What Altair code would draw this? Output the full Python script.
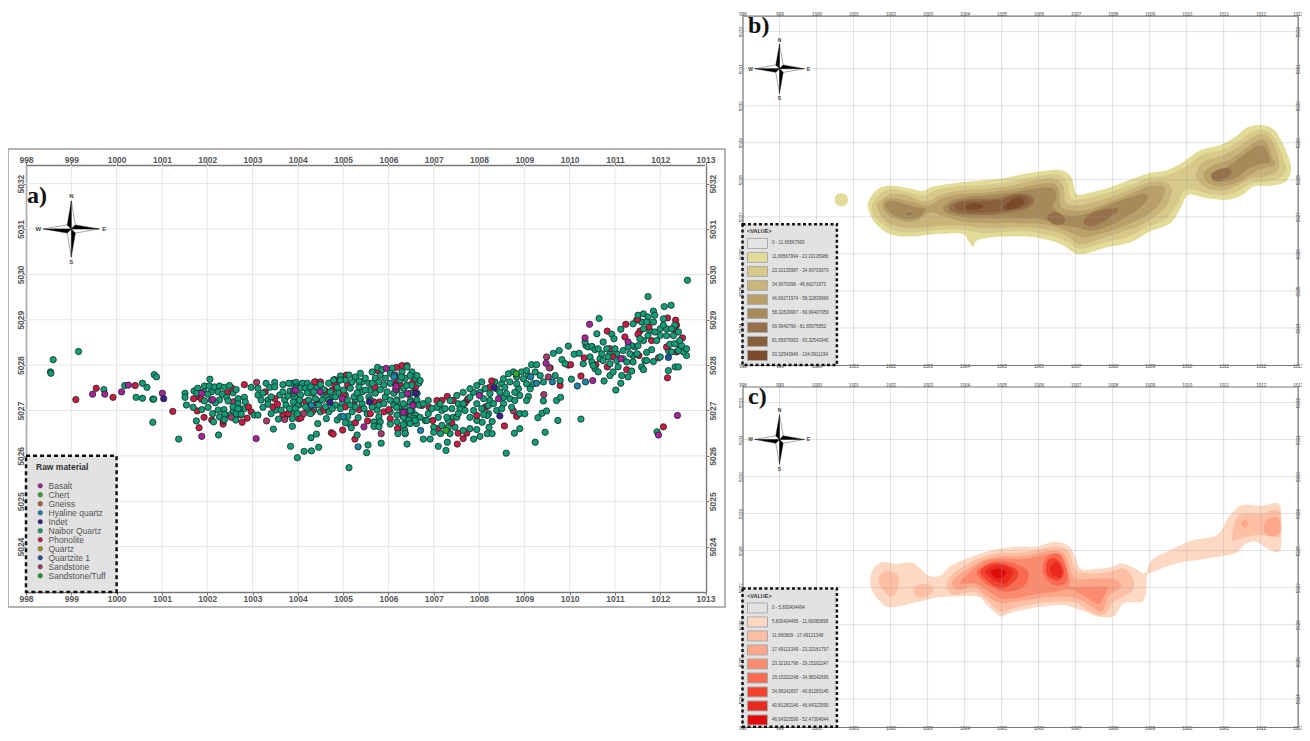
import altair as alt
import pandas as pd

# ---------------- panel a : artefacts (map km) ----------------
phonolite = [(999.10,5027.24),(999.55,5027.49),(999.92,5027.29),(1000.41,5027.55),(1001.24,5026.98),(1001.82,5026.62),(1001.70,5027.26),(1001.83,5027.30),(1001.87,5027.25),(1001.78,5026.99),(1001.93,5026.85),(1002.10,5026.79),(1002.35,5026.70),(1002.35,5026.77),(1002.77,5026.74),(1002.88,5026.83),(1002.74,5026.90),(1002.91,5027.08),(1002.97,5026.97),(1002.82,5027.57),(1002.54,5027.50),(1002.44,5027.39),(1003.67,5026.91),(1003.79,5026.93),(1003.45,5027.08),(1003.55,5027.14),(1003.49,5027.26),(1003.28,5027.41),(1004.02,5026.82),
(1004.37,5027.63),(1004.50,5027.63),(1004.81,5027.68),(1005.07,5027.78),(1005.10,5027.56),(1004.82,5027.57),(1004.61,5027.43),(1004.17,5027.19),(1004.32,5026.97),(1004.07,5026.84),(1004.57,5027.01),(1004.74,5026.51),(1004.78,5026.48),(1004.99,5026.57),(1005.27,5026.73),(1005.26,5026.37),(1005.54,5026.77),(1005.60,5026.93),(1005.90,5026.97),(1006.01,5027.02),(1006.04,5026.82),(1006.21,5026.60),(1005.76,5027.88),(1005.70,5027.51),(1006.18,5027.95),(1006.30,5027.99),(1006.41,5027.99),(1006.18,5027.63),(1006.26,5027.56),(1006.54,5027.63),(1006.60,5027.52),(1005.05,5027.08),(1005.35,5027.02),(1005.68,5027.19),(1005.81,5027.19),(1005.24,5027.12),(1006.57,5027.41),(1006.37,5026.93),(1005.01,5027.34),(1004.76,5027.45),(1004.43,5027.15),
(1006.74,5027.11),(1006.90,5027.07),(1007.07,5027.22),(1007.30,5027.31),(1007.18,5027.22),(1007.10,5026.60),(1006.98,5026.78),(1006.20,5026.60),(1007.43,5027.22),(1007.54,5026.50),(1007.52,5026.26),(1007.40,5026.73),(1007.65,5026.38),(1007.73,5026.50),(1007.69,5027.16),(1007.76,5027.26),(1007.95,5026.89),(1008.17,5027.09),(1008.28,5027.65),(1008.23,5027.51),(1008.56,5026.66),(1008.83,5026.87),(1009.79,5027.55),(1009.57,5027.94),
(1010.83,5028.75),(1011.24,5028.90),(1012.16,5029.04),(1011.50,5029.01),(1012.34,5028.99),(1012.36,5028.88),(1012.34,5028.76),(1012.49,5028.60),(1011.55,5028.75),(1011.51,5028.68),(1011.75,5028.84),(1011.81,5028.54),(1012.14,5028.40),(1011.22,5028.62),(1010.96,5028.18),(1010.83,5027.96),(1010.58,5028.01),(1010.32,5028.16),(1010.25,5027.76),(1009.97,5028.00),(1010.02,5028.01),(1011.53,5028.21),(1011.26,5027.90),(1012.16,5027.72),(1012.07,5026.64),(1012.36,5028.29)]
sandstone = [(1002.53,5026.85),(1003.09,5027.62),(1002.57,5027.19),(1003.71,5026.80),(1003.31,5026.77),(1004.13,5026.93),(1005.84,5026.49),(1008.76,5026.99),(1009.43,5027.35),(1009.53,5027.74),(1009.49,5028.18),(1011.96,5028.16),(1010.49,5028.40),(1010.89,5028.36),(1009.55,5027.94)]
naibor = [(998.60,5028.12),(999.16,5028.30),(998.54,5027.85),(998.55,5027.82),(999.72,5027.46),(1000.18,5027.55),(1000.57,5027.60),(1000.67,5027.51),(1000.83,5027.79),(1000.88,5027.74),(1000.43,5027.29),(1000.57,5027.27),(1000.80,5027.25),(1000.82,5027.25),(1000.80,5026.74),(1001.37,5026.37),(1001.51,5027.38),(1001.51,5027.29),(1001.54,5027.12),
(1002.06,5027.69),(1001.69,5027.07),(1001.76,5026.77),(1002.25,5026.46),(1001.71,5027.43),(1001.79,5027.49),(1001.94,5027.54),(1002.05,5027.54),(1002.16,5027.52),(1002.27,5027.54),(1002.38,5027.51),(1002.49,5027.55),(1002.64,5027.46),(1001.77,5027.38),(1001.93,5027.41),(1002.01,5027.36),(1002.24,5027.41),(1002.33,5027.36),(1002.43,5027.29),(1001.94,5027.21),(1002.18,5027.17),(1002.46,5027.21),(1002.68,5027.26),(1002.82,5027.29),(1002.84,5027.19),(1002.68,5027.15),(1002.57,5027.08),(1002.71,5027.04),(1002.02,5027.07),(1001.88,5027.02),(1002.24,5027.01),(1002.37,5027.02),(1002.38,5026.92),(1002.12,5026.93),(1002.27,5026.86),(1002.14,5026.75),(1002.38,5026.80),(1002.64,5026.93),(1002.63,5026.79),(1002.68,5027.04),(1002.75,5026.92),
(1002.97,5027.51),(1003.30,5027.60),(1003.49,5027.62),(1003.12,5027.34),(1003.23,5027.38),(1003.38,5027.51),(1003.49,5027.52),(1003.67,5027.57),(1003.80,5027.60),(1003.96,5027.62),(1003.34,5027.23),(1003.41,5027.30),(1003.34,5027.14),(1003.23,5027.07),(1003.04,5026.90),(1003.12,5026.90),(1003.41,5026.93),(1003.57,5026.81),(1003.46,5026.59),(1003.88,5026.65),(1003.84,5026.21),(1003.99,5025.96),(1003.67,5027.41),(1003.83,5027.43),(1003.74,5027.12),(1003.82,5027.04),(1003.93,5026.97),(1004.00,5027.12),(1003.78,5027.32),(1003.97,5027.52),(1003.88,5026.82),(1003.63,5027.01),
(1004.14,5026.10),(1004.30,5026.11),(1004.46,5026.19),(1004.29,5026.40),(1004.41,5026.48),(1004.44,5026.71),(1005.13,5025.74),(1005.55,5026.24),(1005.52,5026.07),(1005.84,5026.28),(1006.41,5026.26),(1005.31,5026.46),
(1004.10,5027.60),(1004.21,5027.60),(1003.95,5027.49),(1004.06,5027.49),(1004.17,5027.49),(1004.28,5027.52),(1004.50,5027.57),(1004.68,5027.60),(1004.94,5027.76),(1005.05,5027.67),(1005.20,5027.63),(1005.38,5027.82),(1005.49,5027.71),(1005.64,5027.85),(1005.76,5027.95),(1005.86,5027.90),(1006.08,5027.93),(1006.04,5027.82),(1006.30,5027.85),(1006.41,5027.96),(1006.52,5027.85),
(1003.91,5027.38),(1004.06,5027.34),(1004.21,5027.39),(1004.35,5027.41),(1004.57,5027.46),(1004.72,5027.41),(1004.87,5027.51),(1005.01,5027.45),(1005.16,5027.49),(1005.35,5027.52),(1005.49,5027.45),(1005.64,5027.60),(1005.79,5027.63),(1005.93,5027.71),(1006.04,5027.60),(1006.26,5027.67),(1006.37,5027.71),(1006.60,5027.71),(1006.67,5027.60),
(1003.90,5027.19),(1004.04,5027.23),(1004.24,5027.23),(1004.39,5027.26),(1004.54,5027.23),(1004.68,5027.23),(1004.83,5027.30),(1005.09,5027.23),(1005.24,5027.30),(1005.38,5027.26),(1005.57,5027.30),(1005.71,5027.38),(1005.82,5027.46),(1005.97,5027.41),(1006.19,5027.23),(1006.30,5027.34),(1006.34,5027.49),(1006.49,5027.38),(1006.63,5027.23),
(1003.95,5027.04),(1004.17,5027.08),(1004.46,5027.12),(1004.61,5027.08),(1004.76,5027.04),(1004.94,5027.04),(1005.16,5027.12),(1005.27,5027.08),(1005.46,5027.04),(1005.64,5027.08),(1005.79,5027.12),(1005.90,5027.15),(1006.04,5027.23),(1006.23,5027.08),(1006.37,5027.08),(1006.52,5027.01),(1006.67,5027.12),
(1003.99,5026.93),(1004.28,5026.93),(1004.63,5026.82),(1004.87,5026.79),(1004.94,5026.86),(1005.10,5026.87),(1005.13,5026.71),(1005.05,5026.73),(1005.18,5026.62),(1005.33,5026.84),(1005.68,5026.75),(1005.82,5026.75),(1005.68,5026.65),(1005.79,5026.64),(1006.04,5026.70),(1006.19,5026.90),(1006.34,5026.86),(1006.45,5026.79),(1006.57,5026.82),(1006.21,5026.49),(1006.37,5026.49),(1006.36,5026.57),
(1005.60,5027.23),(1005.31,5027.39),(1005.13,5027.78),(1004.79,5027.67),(1004.94,5027.67),(1005.35,5027.65),(1006.19,5027.45),(1006.15,5027.78),
(1006.33,5026.69),(1006.37,5026.50),(1006.48,5026.71),(1006.62,5026.71),(1006.70,5026.85),(1006.59,5026.78),(1006.48,5027.00),(1006.81,5026.78),(1007.00,5026.63),(1006.77,5026.37),(1006.92,5026.37),(1007.10,5026.21),(1007.27,5026.12),(1007.30,5026.30),(1007.15,5026.49),(1007.36,5026.49),(1007.00,5026.52),(1007.18,5026.67),(1007.32,5026.78),(1007.51,5026.85),(1007.65,5026.56),(1007.80,5026.60),(1007.88,5026.37),(1008.02,5026.43),(1007.95,5026.58),(1008.18,5026.49),(1008.29,5026.49),(1008.22,5026.63),(1008.29,5026.76),(1008.07,5026.74),(1008.18,5026.89),(1008.78,5026.50),(1008.90,5026.60),(1009.24,5026.30),(1009.46,5026.52),(1008.60,5026.06),(1009.30,5026.84),(1009.39,5026.94),(1009.49,5026.99),(1009.74,5026.78),(1010.25,5026.81),
(1006.77,5027.15),(1006.88,5027.22),(1007.07,5027.07),(1007.14,5027.15),(1007.25,5027.04),(1007.36,5027.22),(1007.51,5027.33),(1007.65,5027.40),(1007.80,5027.48),(1007.95,5027.55),(1008.06,5027.63),(1008.13,5027.48),(1008.24,5027.37),(1008.39,5027.48),(1008.54,5027.70),(1008.65,5027.81),(1008.76,5027.85),(1008.94,5027.85),(1009.05,5027.88),(1009.16,5028.01),(1009.27,5028.01),(1009.24,5027.85),(1009.35,5027.77),(1008.98,5027.70),(1008.83,5027.59),(1008.68,5027.63),(1008.57,5027.51),(1008.46,5027.40),(1008.61,5027.37),(1008.79,5027.40),(1009.05,5027.59),(1009.20,5027.59),(1009.42,5027.63),(1009.68,5027.77),(1009.79,5027.66),(1009.09,5027.31),(1009.05,5027.22),(1008.79,5027.22),(1008.72,5027.07),(1008.90,5026.93),(1009.01,5026.93),(1009.42,5027.21),(1009.71,5027.22),(1009.80,5027.29),
(1007.40,5027.04),(1007.54,5027.15),(1007.65,5027.15),(1007.80,5027.29),(1007.95,5027.15),(1008.10,5027.26),(1008.21,5027.11),(1008.32,5027.15),(1007.54,5026.93),(1007.69,5027.00),(1007.88,5027.00),(1008.06,5027.04),(1008.39,5027.00),(1008.54,5027.15),(1008.50,5027.04),(1008.10,5026.91),(1007.29,5026.85),(1007.10,5026.85),(1006.96,5027.04),(1006.85,5026.78),(1006.33,5026.85),(1006.18,5027.07),
(1006.29,5027.74),(1006.48,5027.77),(1006.63,5027.77),(1006.51,5027.55),(1006.40,5027.55),(1006.18,5027.22),(1006.48,5027.18),(1006.33,5027.15),(1006.63,5027.37),(1006.70,5027.66),
(1012.60,5029.87),(1011.73,5029.51),(1012.09,5029.29),(1012.24,5029.32),(1010.65,5029.03),(1010.60,5028.69),(1009.97,5028.42),(1009.77,5028.32),(1009.64,5028.26),(1009.83,5028.12),(1009.90,5028.03),(1010.10,5028.24),(1010.21,5028.26),(1010.04,5027.69),(1010.30,5028.03),(1010.36,5028.43),(1010.41,5028.40),(1010.49,5028.41),(1010.56,5028.34),(1010.74,5028.51),(1010.63,5028.36),(1010.45,5028.18),(1010.49,5028.07),(1010.56,5027.92),(1010.63,5027.85),(1010.76,5027.65),(1010.89,5027.77),(1011.02,5027.45),(1011.13,5027.60),(1010.93,5028.68),(1010.98,5028.58),(1011.13,5028.79),(1010.82,5028.36),(1011.00,5028.36),(1010.74,5028.10),(1010.89,5028.03),(1011.04,5028.10),(1011.18,5028.14),(1011.07,5027.96),(1011.26,5028.07),(1011.40,5028.07),(1011.33,5028.25),(1011.44,5028.40),(1011.37,5028.43),(1011.51,5028.43),(1011.59,5027.96),(1011.63,5027.90),(1011.66,5028.10),(1011.81,5028.34),(1011.70,5028.28),(1011.85,5028.08),(1012.00,5028.18),(1012.18,5027.88),(1012.33,5027.96),(1012.40,5027.96),(1012.58,5028.21),(1012.51,5028.29),(1012.58,5028.36),(1012.40,5028.32),(1012.25,5028.29),(1012.47,5028.43),(1012.43,5028.54),(1012.40,5028.73),(1012.32,5028.88),(1011.40,5028.91),(1011.51,5029.10),(1011.63,5029.13),(1011.73,5029.06),(1011.85,5029.19),(1011.88,5029.10),(1011.70,5028.95),(1011.85,5028.95),(1012.07,5029.02),(1011.63,5028.80),(1011.73,5028.65),(1011.88,5028.73),(1012.00,5028.80),(1012.07,5028.88),(1012.14,5028.65),(1012.25,5028.80),(1012.29,5028.65),(1011.63,5028.54),(1011.55,5028.58),(1011.92,5028.54),(1012.21,5028.46),(1012.32,5028.47),(1010.34,5028.51),(1010.52,5027.99),(1010.71,5028.25),(1010.85,5028.18),(1010.96,5027.85),(1011.15,5027.77),(1011.37,5027.87),(1011.29,5027.74),(1011.18,5028.32),(1011.29,5028.40),(1011.49,5028.25),(1011.70,5028.10),(1011.93,5026.53)]
naibor_more = [(1003.88,5027.60),(1004.32,5027.38),(1004.43,5027.52),(1004.61,5027.30),(1004.76,5027.30),(1004.90,5027.38),(1005.05,5027.34),(1005.27,5027.23),(1005.42,5027.41),(1005.57,5027.60),(1005.71,5027.71),(1005.90,5027.56),(1006.12,5027.38),(1006.41,5027.56),(1004.02,5027.12),(1004.21,5027.04),(1004.35,5027.01),(1004.50,5026.97),(1004.68,5026.97),(1004.83,5027.12),(1004.98,5027.15),(1005.20,5026.97),(1005.42,5027.15),(1005.53,5026.93),(1005.75,5027.01),(1005.93,5027.30),(1006.12,5027.12),(1006.30,5026.97),(1006.49,5027.23),(1006.63,5027.38),(1006.60,5026.90),(1006.04,5026.97),(1005.79,5026.86),(1004.54,5027.38),(1005.42,5027.63),(1005.60,5027.45),(1005.82,5027.78),(1005.27,5027.74),(1004.87,5027.63),(1004.39,5027.63),(1004.28,5027.12),(1004.06,5026.90),(1003.88,5027.04),(1006.45,5026.93),(1006.19,5026.75),(1006.37,5026.71),
(1006.88,5026.93),(1007.18,5027.00),(1007.43,5026.85),(1007.80,5026.85),(1007.47,5026.63),(1007.32,5026.63),(1007.95,5026.78),(1008.21,5026.93),(1007.88,5027.40),(1007.73,5027.22),(1008.02,5027.40),(1008.24,5027.22),(1008.54,5027.29),(1008.87,5027.48),(1008.68,5027.26),(1008.90,5027.33),(1009.13,5027.48),(1008.83,5027.74),(1009.09,5027.77),(1008.35,5027.63),(1008.50,5027.59),(1007.58,5027.04),(1008.13,5027.07),
(1002.09,5027.41),(1002.09,5027.23),(1002.27,5027.23),(1002.57,5027.39),(1002.57,5026.97),(1002.49,5026.90),(1002.82,5027.04),(1003.12,5027.49),(1003.19,5027.23),(1003.60,5027.34),(1003.93,5027.30),(1003.71,5027.23),(1003.52,5027.01),(1003.74,5026.90),
(1011.48,5028.99),(1011.59,5028.95),(1011.77,5028.76),(1012.00,5028.65),(1012.14,5028.80),(1011.04,5028.25),(1011.40,5028.21),(1010.89,5028.25),(1010.67,5028.14),(1012.18,5028.32),(1012.43,5028.36)]
basalt = [(999.47,5027.36),(999.74,5027.36),(1000.11,5027.41),(1000.26,5027.56),(1001.01,5027.38),(1001.88,5026.43),(1002.12,5027.24),(1003.08,5026.38),(1003.91,5027.43),(1001.88,5027.38),(1003.95,5027.45),(1004.49,5027.41),(1004.98,5027.26),(1005.95,5027.93),(1006.16,5027.56),(1006.16,5027.47),(1006.43,5027.36),(1006.54,5027.13),(1005.46,5026.64),(1006.36,5026.97),(1008.01,5027.33),(1008.43,5027.26),(1006.33,5026.96),(1006.17,5027.53),(1006.42,5027.37),(1006.54,5027.11),(1010.44,5028.90),(1010.34,5028.60),(1010.51,5027.66),(1009.48,5028.04),(1011.13,5028.14),(1011.29,5028.51),(1012.38,5026.89),(1011.96,5026.46)]
hyaline = [(1004.30,5027.12),(1005.00,5026.87),(1005.33,5026.20),(1006.13,5027.78),(1006.71,5026.56),(1009.14,5027.74),(1009.27,5027.60),(1009.62,5027.63),(1006.12,5027.74),(1010.17,5027.54),(1010.35,5027.63)]
indet = [(1001.04,5027.26),(1004.71,5027.18),(1005.58,5027.19),(1008.33,5027.50),(1008.46,5026.88),(1006.60,5027.38)]
quartzite = [(1012.18,5028.17)]
chert = [(1008.82,5027.81),(1007.27,5026.56)]

materials = ["Basalt","Chert","Gneiss","Hyaline quartz","Indet","Naibor Quartz","Phonolite","Quartz","Quartzite 1","Sandstone","Sandstone/Tuff"]
material_colors = ["#a8229c","#35a82a","#b8601e","#1c84ac","#3d1a8e","#0f9e78","#cc1a42","#a89a12","#1d4fa8","#ab3a6c","#14a626"]
draw_order = [("Naibor Quartz",naibor_more),("Phonolite",phonolite),("Sandstone",sandstone),("Naibor Quartz",naibor),("Basalt",basalt),("Hyaline quartz",hyaline),("Indet",indet),("Quartzite 1",quartzite),("Chert",chert)]

# ---------------- panel b : contours of density ----------------
b_classes = ["0 - 11,66567993","11,66567994 - 23,33135986","23,33135987 - 34,99703979","34,9970398 - 46,66271973","46,66271974 - 58,32839966","58,32839967 - 69,99407959","69,9940796 - 81,65975952","81,65975953 - 93,32543945","93,32543946 - 104,9911194"]
b_colors = ["#e4e4e4","#e3db98","#d6c98a","#c9b57a","#b9a069","#a68a5a","#96704a","#88603c","#7a4a2b"]
b2_dot = [(1000.85,5027.46),(1000.80,5027.59),(1000.67,5027.64),(1000.54,5027.59),(1000.49,5027.46),(1000.54,5027.33),(1000.67,5027.28),(1000.80,5027.33)]
b2_main = [(1001.38,5027.32),(1001.50,5027.59),(1001.72,5027.79),(1002.04,5027.84),(1002.49,5027.77),(1002.85,5027.70),(1003.16,5027.82),(1003.70,5027.91),(1004.33,5027.97),(1005.05,5028.04),(1005.68,5028.17),(1006.32,5028.26),(1006.68,5028.24),(1006.90,5028.04),(1007.02,5027.62),(1007.31,5027.64),(1007.85,5027.77),(1008.48,5028.00),(1009.02,5028.19),(1009.47,5028.26),(1009.92,5028.49),(1010.37,5028.80),(1010.91,5028.94),(1011.32,5029.16),(1011.63,5029.41),(1011.99,5029.48),(1012.35,5029.36),(1012.60,5028.98),(1012.76,5028.58),(1012.82,5028.26),(1012.67,5027.95),(1012.26,5027.84),(1011.81,5027.82),(1011.50,5027.59),(1011.09,5027.46),(1010.55,5027.50),(1010.05,5027.59),(1009.83,5027.23),(1009.56,5026.83),(1009.02,5026.61),(1008.48,5026.31),(1007.85,5026.18),(1007.31,5026.02),(1006.99,5026.02),(1006.59,5026.27),(1006.14,5026.40),(1005.68,5026.47),(1005.05,5026.47),(1004.60,5026.43),(1004.33,5026.36),(1004.23,5026.20),(1004.11,5026.34),(1003.93,5026.54),(1003.34,5026.54),(1002.62,5026.47),(1002.08,5026.50),(1001.72,5026.70),(1001.50,5026.96)]
b3_main = [(1001.50,5027.30),(1001.63,5027.53),(1001.86,5027.71),(1002.13,5027.74),(1002.53,5027.65),(1002.89,5027.57),(1003.25,5027.73),(1003.79,5027.82),(1004.42,5027.86),(1005.14,5027.93),(1005.77,5028.07),(1006.32,5028.15),(1006.63,5028.10),(1006.78,5027.91),(1006.87,5027.50),(1007.17,5027.48),(1007.85,5027.64),(1008.48,5027.86),(1009.02,5028.07),(1009.51,5028.13),(1009.96,5028.35),(1010.41,5028.67),(1010.95,5028.80),(1011.41,5029.04),(1011.72,5029.27),(1012.04,5029.36),(1012.31,5029.21),(1012.51,5028.85),(1012.64,5028.49),(1012.69,5028.26),(1012.53,5028.07),(1012.17,5027.95),(1011.77,5027.92),(1011.41,5027.71),(1011.05,5027.59),(1010.55,5027.64),(1009.99,5027.74),(1009.74,5027.32),(1009.42,5026.94),(1008.93,5026.72),(1008.39,5026.45),(1007.80,5026.31),(1007.31,5026.16),(1007.04,5026.16),(1006.63,5026.40),(1006.14,5026.53),(1005.68,5026.61),(1005.05,5026.59),(1004.51,5026.56),(1003.93,5026.65),(1003.34,5026.65),(1002.62,5026.58),(1002.13,5026.62),(1001.77,5026.81),(1001.54,5027.05)]
b4_body = [(1001.63,5027.30),(1001.74,5027.46),(1001.95,5027.59),(1002.22,5027.62),(1002.58,5027.53),(1002.94,5027.41),(1003.34,5027.59),(1003.88,5027.71),(1004.51,5027.75),(1005.23,5027.84),(1005.77,5027.97),(1006.32,5028.04),(1006.57,5027.95),(1006.68,5027.77),(1006.75,5027.37),(1007.17,5027.32),(1007.85,5027.50),(1008.48,5027.74),(1009.02,5027.94),(1009.42,5027.94),(1009.60,5027.73),(1009.47,5027.32),(1009.20,5027.05),(1008.75,5026.78),(1008.30,5026.61),(1007.80,5026.45),(1007.31,5026.29),(1007.04,5026.29),(1006.68,5026.52),(1006.14,5026.67),(1005.68,5026.72),(1005.05,5026.70),(1004.51,5026.70),(1003.93,5026.76),(1003.34,5026.76),(1002.62,5026.69),(1002.17,5026.74),(1001.81,5026.94)]
b4_right = [(1010.26,5028.17),(1010.46,5028.49),(1011.00,5028.67),(1011.45,5028.91),(1011.81,5029.16),(1012.08,5029.23),(1012.31,5029.05),(1012.44,5028.71),(1012.51,5028.40),(1012.40,5028.19),(1012.04,5028.07),(1011.72,5028.04),(1011.32,5027.82),(1010.95,5027.71),(1010.55,5027.77),(1010.32,5027.95)]
b5_body = [(1001.77,5027.30),(1001.86,5027.46),(1002.08,5027.50),(1002.40,5027.44),(1002.71,5027.37),(1003.03,5027.30),(1003.39,5027.50),(1003.97,5027.62),(1004.60,5027.66),(1005.32,5027.75),(1005.86,5027.86),(1006.32,5027.92),(1006.50,5027.83),(1006.57,5027.64),(1006.63,5027.26),(1007.17,5027.17),(1007.85,5027.37),(1008.48,5027.62),(1008.93,5027.82),(1009.33,5027.83),(1009.41,5027.68),(1009.24,5027.32),(1008.93,5027.05),(1008.48,5026.83),(1008.03,5026.65),(1007.58,5026.52),(1007.22,5026.45),(1006.86,5026.58),(1006.50,5026.72),(1006.05,5026.81),(1005.41,5026.83),(1004.69,5026.83),(1003.97,5026.87),(1003.43,5027.01),(1003.07,5027.12),(1002.62,5026.87),(1002.17,5026.92),(1001.90,5027.10)]
b5_right = [(1010.46,5028.17),(1010.73,5028.40),(1011.14,5028.53),(1011.54,5028.80),(1011.86,5029.03),(1012.08,5029.07),(1012.22,5028.89),(1012.31,5028.58),(1012.40,5028.40),(1012.08,5028.31),(1011.77,5028.17),(1011.41,5027.95),(1010.95,5027.82),(1010.59,5027.91)]
b6_left = [(1001.86,5027.30),(1001.99,5027.43),(1002.31,5027.37),(1002.71,5027.26),(1002.94,5027.21),(1002.80,5027.01),(1002.44,5026.94),(1002.08,5027.05)]
b6_body = [(1003.43,5027.26),(1003.66,5027.44),(1004.15,5027.55),(1004.69,5027.59),(1005.41,5027.68),(1005.95,5027.77),(1006.39,5027.77),(1006.48,5027.50),(1006.39,5027.26),(1006.68,5027.05),(1007.17,5027.05),(1007.85,5027.30),(1008.48,5027.53),(1008.88,5027.62),(1008.93,5027.46),(1008.70,5027.21),(1008.30,5026.96),(1007.85,5026.74),(1007.40,5026.63),(1007.04,5026.72),(1006.59,5026.78),(1006.05,5026.94),(1005.32,5026.96),(1004.60,5026.96),(1003.97,5026.99),(1003.52,5027.10)]
b6_right = [(1010.73,5028.17),(1011.09,5028.35),(1011.54,5028.67),(1011.90,5028.91),(1012.13,5028.85),(1012.26,5028.49),(1012.04,5028.44),(1011.68,5028.31),(1011.32,5028.04),(1010.95,5027.95),(1010.68,5028.01)]
b7_center = [(1003.57,5027.28),(1003.84,5027.43),(1004.24,5027.48),(1004.87,5027.50),(1005.41,5027.62),(1005.77,5027.59),(1005.88,5027.41),(1005.68,5027.23),(1005.23,5027.12),(1004.60,5027.05),(1003.97,5027.07),(1003.66,5027.14)]
b7_small = [(1006.23,5026.99),(1006.41,5027.13),(1006.63,5027.05),(1006.72,5026.92),(1006.59,5026.78),(1006.36,5026.83)]
b7_lower = [(1007.22,5026.87),(1007.40,5027.08),(1007.85,5027.21),(1008.16,5027.21),(1007.89,5026.96),(1007.53,5026.76),(1007.31,5026.76)]
b7_right = [(1010.66,5028.13),(1010.86,5028.28),(1011.14,5028.31),(1011.21,5028.19),(1011.00,5028.01),(1010.77,5027.97)]
b7_spot = [(1002.42,5027.09),(1002.50,5027.12),(1002.59,5027.08),(1002.50,5027.05)]
b8_center = [(1003.72,5027.30),(1003.97,5027.41),(1004.42,5027.43),(1004.96,5027.46),(1005.32,5027.57),(1005.64,5027.57),(1005.77,5027.41),(1005.59,5027.26),(1005.14,5027.17),(1004.60,5027.12),(1003.97,5027.14)]
b9_left = [(1004.02,5027.30),(1004.24,5027.37),(1004.47,5027.32),(1004.50,5027.26),(1004.24,5027.19),(1004.06,5027.21)]
b9_right = [(1005.05,5027.26),(1005.28,5027.46),(1005.50,5027.53),(1005.62,5027.41),(1005.50,5027.28),(1005.23,5027.19)]
b_polys = [(1,b2_dot),(1,b2_main),(2,b3_main),(3,b4_body),(3,b4_right),(4,b5_body),(4,b5_right),(5,b6_left),(5,b6_body),(5,b6_right),(6,b7_center),(6,b7_small),(6,b7_lower),(6,b7_right),(6,b7_spot),(7,b8_center),(8,b9_left),(8,b9_right)]

# ---------------- panel c ----------------
c_classes = ["0 - 5,830404494","5,830404495 - 11,66080899","11,660809 - 17,49121348","17,49121349 - 23,32161797","23,32161798 - 29,15202247","29,15202248 - 34,98242696","34,98242697 - 40,81283145","40,81283146 - 46,64323595","46,64323596 - 52,47364044"]
c_colors = ["#e2e2e2","#fdd8c2","#fdc0a4","#fca68a","#fb8b6e","#f96a50","#f2432f","#ea2a1e","#e00b0b"]
c2_main = [(1001.45,5027.21),(1001.52,5027.48),(1001.77,5027.69),(1002.17,5027.64),(1002.58,5027.68),(1002.80,5027.52),(1003.03,5027.32),(1003.34,5027.32),(1003.61,5027.57),(1004.06,5027.79),(1004.69,5028.00),(1005.41,5028.11),(1005.95,5028.11),(1006.41,5028.24),(1006.77,5028.15),(1006.95,5027.93),(1007.13,5027.52),(1007.49,5027.50),(1007.94,5027.55),(1008.25,5027.66),(1008.61,5027.52),(1008.88,5027.39),(1009.06,5027.75),(1009.56,5028.02),(1010.14,5028.27),(1010.82,5028.42),(1011.14,5028.92),(1011.50,5029.23),(1011.99,5029.21),(1012.49,5029.26),(1012.55,5028.74),(1012.53,5028.02),(1012.26,5028.02),(1011.86,5028.24),(1011.54,5028.15),(1011.32,5027.93),(1010.55,5027.79),(1009.74,5027.66),(1009.11,5027.43),(1008.93,5027.34),(1008.91,5026.94),(1008.79,5026.62),(1008.30,5026.58),(1008.03,5026.23),(1007.58,5026.23),(1007.13,5026.40),(1006.59,5026.53),(1005.77,5026.44),(1005.23,5026.32),(1004.96,5026.23),(1004.60,5026.53),(1004.33,5026.76),(1003.34,5026.74),(1002.76,5026.62),(1001.99,5026.47),(1001.68,5026.67),(1001.50,5026.94)]
c3_left = [(1001.68,5027.23),(1001.81,5027.43),(1002.08,5027.43),(1002.22,5027.25),(1002.17,5026.89),(1001.99,5026.77),(1001.77,5026.98)]
c3_small = [(1002.62,5026.94),(1002.80,5027.10),(1003.07,5027.07),(1003.16,5026.94),(1002.98,5026.76),(1002.71,5026.76)]
c3_top = [(1011.23,5028.29),(1011.32,5028.83),(1011.54,5028.99),(1011.99,5028.99),(1012.49,5029.08),(1012.53,5028.42),(1012.26,5028.40),(1011.90,5028.42),(1011.45,5028.33)]
c3_central = [(1003.52,5027.12),(1003.70,5027.39),(1004.24,5027.73),(1004.87,5027.93),(1005.50,5027.95),(1006.14,5028.06),(1006.50,5028.11),(1006.81,5027.97),(1006.99,5027.52),(1007.31,5027.39),(1007.94,5027.43),(1008.30,5027.52),(1008.52,5027.30),(1008.57,5026.98),(1008.30,5026.76),(1008.03,5026.62),(1007.76,5026.26),(1007.40,5026.35),(1007.04,5026.58),(1006.59,5026.62),(1005.95,5026.58),(1005.32,5026.44),(1004.96,5026.35),(1004.60,5026.67),(1004.24,5026.89),(1003.79,5026.80),(1003.57,5026.89)]
c4_spot = [(1011.47,5028.74),(1011.57,5028.83),(1011.66,5028.74),(1011.57,5028.62)]
c4_spot2 = [(1012.08,5028.65),(1012.22,5028.87),(1012.49,5028.87),(1012.53,5028.51),(1012.31,5028.38),(1012.13,5028.47)]
c4_central = [(1003.66,5027.12),(1003.84,5027.34),(1004.33,5027.66),(1004.87,5027.84),(1005.55,5027.86),(1006.14,5027.97),(1006.50,5028.00),(1006.72,5027.88),(1006.90,5027.39),(1007.04,5027.23),(1007.58,5027.25),(1008.03,5027.23),(1008.23,5027.07),(1008.14,5026.95),(1007.89,5026.76),(1007.71,5026.35),(1007.44,5026.49),(1007.04,5026.71),(1006.50,5026.76),(1005.95,5026.71),(1005.32,5026.62),(1004.96,5026.58),(1004.56,5026.80),(1004.24,5027.03),(1003.84,5026.94)]
c5_central = [(1003.88,5027.12),(1004.15,5027.43),(1004.51,5027.70),(1004.87,5027.79),(1005.55,5027.77),(1006.14,5027.88),(1006.50,5027.93),(1006.68,5027.79),(1006.84,5027.21),(1006.86,5027.03),(1007.49,5027.03),(1007.85,5027.01),(1007.71,5026.67),(1007.58,5026.56),(1007.26,5026.76),(1006.86,5026.95),(1006.50,5026.89),(1005.95,5026.83),(1005.32,5026.71),(1004.96,5026.71),(1004.60,5026.94),(1004.24,5027.12)]
c6_left = [(1004.33,5027.43),(1004.60,5027.64),(1004.96,5027.73),(1005.46,5027.61),(1005.73,5027.39),(1005.59,5027.03),(1005.14,5026.89),(1004.69,5027.03),(1004.42,5027.25)]
c6_right = [(1006.14,5027.70),(1006.32,5027.88),(1006.59,5027.88),(1006.78,5027.39),(1006.72,5027.12),(1006.41,5027.07),(1006.14,5027.34)]
c7_left = [(1004.42,5027.43),(1004.69,5027.64),(1005.05,5027.64),(1005.41,5027.48),(1005.41,5027.25),(1005.05,5026.98),(1004.69,5027.12)]
c7_right = [(1006.23,5027.70),(1006.45,5027.79),(1006.63,5027.61),(1006.68,5027.34),(1006.50,5027.19),(1006.23,5027.34)]
c8_left = [(1004.56,5027.43),(1004.78,5027.59),(1005.10,5027.59),(1005.31,5027.41),(1005.10,5027.12),(1004.78,5027.21)]
c8_right = [(1006.32,5027.57),(1006.50,5027.70),(1006.63,5027.48),(1006.59,5027.28),(1006.36,5027.34)]
c9_left = [(1004.71,5027.43),(1004.92,5027.52),(1005.14,5027.41),(1004.96,5027.25),(1004.77,5027.32)]
c_polys = [(1,c2_main),(2,c3_left),(2,c3_small),(2,c3_top),(2,c3_central),(3,c4_spot),(3,c4_spot2),(3,c4_central),(4,c5_central),(5,c6_left),(5,c6_right),(6,c7_left),(6,c7_right),(7,c8_left),(7,c8_right),(8,c9_left)]

# ---------------- frame ticks ----------------
x_ticks = list(range(998, 1014))
y_ticks = list(range(5024, 5033))
W, H = 1294, 725   # whole drawing; the three maps share it, each through its own pair of scales

def frame_parts(xd, yd, xr, yr, font, labelpad, ticksize, domw, grid_color, grid_op, weight, lcolor):
    xe = alt.Scale(domain=xd, range=xr, nice=False, zero=False)
    ye = alt.Scale(domain=yd, range=yr, nice=False, zero=False)
    def ax(orient, vals, offset, angle=0):
        return alt.Axis(orient=orient, values=vals, title=None, grid=False, format="d", labelFontSize=font, offset=offset,
                        labelColor=lcolor, labelFont="Liberation Sans", labelFontWeight=weight, labelPadding=labelpad, tickSize=ticksize,
                        tickColor="#777777", tickWidth=1, domainColor="#777777", domainWidth=domw, labelAngle=angle,
                        labelOverlap=False, labelBaseline="middle", labelFlush=False, labelAlign="center")
    xdf = pd.DataFrame({"x": x_ticks, "y0": yd[0], "y1": yd[1]})
    ydf = pd.DataFrame({"y": y_ticks, "x0": xd[0], "x1": xd[1]})
    axes = [
        alt.Chart(xdf).mark_rule(opacity=0).encode(x=alt.X("x:Q", scale=xe, axis=ax("bottom", x_ticks, yr[0] - H)), y=alt.Y("y0:Q", scale=ye, axis=None), y2="y1:Q"),
        alt.Chart(xdf).mark_rule(opacity=0).encode(x=alt.X("x:Q", scale=xe, axis=ax("top", x_ticks, -yr[1])), y=alt.Y("y0:Q", scale=ye, axis=None), y2="y1:Q"),
        alt.Chart(ydf).mark_rule(opacity=0).encode(y=alt.Y("y:Q", scale=ye, axis=ax("left", y_ticks, -xr[0], 270)), x=alt.X("x0:Q", scale=xe, axis=None), x2="x1:Q"),
        alt.Chart(ydf).mark_rule(opacity=0).encode(y=alt.Y("y:Q", scale=ye, axis=ax("right", y_ticks, xr[1] - W, 270)), x=alt.X("x0:Q", scale=xe, axis=None), x2="x1:Q"),
    ]
    grid = [
        alt.Chart(xdf).mark_rule(color=grid_color, strokeWidth=1, opacity=grid_op).encode(x=alt.X("x:Q", scale=xe, axis=None), y=alt.Y("y0:Q", scale=ye, axis=None), y2="y1:Q"),
        alt.Chart(ydf).mark_rule(color=grid_color, strokeWidth=1, opacity=grid_op).encode(y=alt.Y("y:Q", scale=ye, axis=None), x=alt.X("x0:Q", scale=xe, axis=None), x2="x1:Q"),
    ]
    return xe, ye, axes, grid

def poly_df(points, name, extra=None):
    d = pd.DataFrame(points, columns=["x", "y"])
    d["i"] = range(len(d))
    d["poly"] = name
    if extra:
        for k, v in extra.items():
            d[k] = v
    return d

def compass(cx, cy, r, w, xenc, yenc, font):
    tips = {"N": (0, r), "E": (r, 0), "S": (0, -r), "W": (-r, 0)}
    waists = {"NE": (w, w), "SE": (w, -w), "SW": (-w, -w), "NW": (-w, w)}
    black = [("N", "NW"), ("E", "NE"), ("S", "SE"), ("W", "SW")]
    white = [("N", "NE"), ("E", "SE"), ("S", "SW"), ("W", "NW")]
    out = []
    for group, fill, sw in ((white, "white", 0.4), (black, "black", 0.4)):
        frames = []
        for t, q in group:
            pts = [(cx, cy), (cx + tips[t][0], cy + tips[t][1]), (cx + waists[q][0], cy + waists[q][1])]
            frames.append(poly_df(pts, t + q))
        out.append(alt.Chart(pd.concat(frames)).mark_line(interpolate="linear-closed", fill=fill, stroke="#222222", strokeWidth=sw).encode(
            x=alt.X("x:Q", scale=xenc, axis=None), y=alt.Y("y:Q", scale=yenc, axis=None), order="i:Q", detail="poly:N"))
    lab = r * 1.17
    out.append(alt.Chart(pd.DataFrame({"t": ["N", "E", "S", "W"], "x": [cx, cx + lab, cx, cx - lab], "y": [cy + lab, cy, cy - lab, cy]})).mark_text(
        fontSize=font, font="Liberation Sans", fontWeight="bold", color="#444444").encode(
        x=alt.X("x:Q", scale=xenc, axis=None), y=alt.Y("y:Q", scale=yenc, axis=None), text="t:N"))
    return out

def letter(txt, x, y, xenc, yenc):
    return alt.Chart(pd.DataFrame({"t": [txt], "x": [x], "y": [y]})).mark_text(
        font="Liberation Serif", fontWeight="bold", fontSize=24, align="left", baseline="alphabetic", color="#111111").encode(
        x=alt.X("x:Q", scale=xenc, axis=None), y=alt.Y("y:Q", scale=yenc, axis=None), text="t:N")

def legend_box(x0, x1, y0, y1, xenc, yenc, sw, dash):
    return alt.Chart(pd.DataFrame({"x": [x0], "x2": [x1], "y": [y0], "y2": [y1]})).mark_rect(
        fill="#e2e2e2", stroke="#111111", strokeWidth=sw, strokeDash=dash).encode(
        x=alt.X("x:Q", scale=xenc, axis=None), x2="x2:Q", y=alt.Y("y:Q", scale=yenc, axis=None), y2="y2:Q")

# ---------------- panel a ----------------
xa, ya, axes_a, grid_a = frame_parts([998, 1013.01], [5023, 5032.41], [18, 698], [584, 157], 8.5, 3, 3, 1.5, "#e6e6e6", 1, "bold", "#555555")
rows = []
for name, pts in draw_order:
    for p in pts:
        rows.append({"x": p[0], "y": p[1], "Raw material": name})
pts_df = pd.DataFrame(rows)
pts_df["o"] = range(len(pts_df))
points_a = alt.Chart(pts_df).mark_point(filled=True, size=40, stroke="#1a2a26", strokeWidth=0.8, opacity=1).encode(
    x=alt.X("x:Q", scale=xa, axis=None),
    y=alt.Y("y:Q", scale=ya, axis=None),
    order="o:Q",
    fill=alt.Fill("Raw material:N", scale=alt.Scale(domain=materials, range=material_colors),
                  legend=alt.Legend(orient="none", legendX=28, legendY=455, title="Raw material", titleFontSize=8.5,
                                    titleFont="Liberation Sans", titleFontWeight="bold", titleColor="#333333", titlePadding=10,
                                    labelFontSize=8.5, labelFont="Liberation Sans", labelColor="#555555", symbolSize=20,
                                    symbolType="circle", symbolStrokeWidth=0.5, rowPadding=0, labelOffset=4, padding=0,
                                    symbolStrokeColor="#333333")),
)
frame_a = alt.Chart(pd.DataFrame({"k": [0]})).mark_rect(filled=False, stroke="#9a9a9a", strokeWidth=1.5).encode(
    x=alt.value(0), x2=alt.value(717), y=alt.value(141), y2=alt.value(599))
panel_a = alt.layer(
    frame_a, *grid_a, *axes_a, *compass(999, 5031, 0.62, 0.09, xa, ya, 6),
    letter("a)", 998.02, 5031.57, xa, ya),
    legend_box(998, 1000, 5023, 5026, xa, ya, 2.5, [4, 3]),
    points_a,
).resolve_axis(x="independent", y="independent")

# ---------------- panels b and c ----------------
def map_panel(polys, classes, colors, let, let_y, leg_y, yd, yr, box_low, box_top):
    xe, ye, axes, grid = frame_parts([998, 1013], yd, [734.5, 1289.7], yr, 4.5, 0, 1, 1.2, "#9a9a9a", 0.3, "normal", "#444444")
    fill_scale = alt.Scale(domain=classes, range=colors)
    legend = alt.Legend(orient="none", legendX=739, legendY=leg_y, title="<VALUE>", titleFontSize=5.5, titleFont="Liberation Sans",
                        titleFontWeight="bold", titleColor="#333333", titlePadding=2, labelFontSize=4.5, labelFont="Liberation Sans",
                        labelColor="#444444", symbolType="M-1,-0.5H1V0.5H-1Z", symbolSize=400, symbolStrokeColor="#aaaaaa",
                        symbolStrokeWidth=1, labelOffset=4, rowPadding=0, padding=0, labelLimit=100, clipHeight=13.9)
    layers = []
    for cls in sorted(set(c for c, _ in polys)):
        frames = [poly_df(p, f"{cls}-{n}", {"value": classes[cls]}) for n, (c, p) in enumerate(polys) if c == cls]
        layers.append(alt.Chart(pd.concat(frames)).mark_line(interpolate="cardinal-closed", strokeWidth=0, strokeOpacity=0).encode(
            x=alt.X("x:Q", scale=xe, axis=None), y=alt.Y("y:Q", scale=ye, axis=None), order="i:Q", detail="poly:N",
            fill=alt.Fill("value:N", scale=fill_scale, legend=legend)))
    return alt.layer(
        *layers, *grid, *axes, *compass(999, 5031, 0.67, 0.1, xe, ye, 5),
        letter(let, 998.15, let_y, xe, ye),
        legend_box(998, 1000.55, box_low, box_top, xe, ye, 2.5, [3, 2.5]),
    ).resolve_axis(x="independent", y="independent")

panel_b = map_panel(b_polys, b_classes, b_colors, "b)", 5031.96, 221, [5023, 5032.43], [357, 7.7], 5023, 5026.8)
panel_c = map_panel(c_polys, c_classes, c_colors, "c)", 5031.96, 585.5, [5023.24, 5032.43], [719, 378.5], 5023.25, 5026.98)

chart = alt.layer(panel_a, panel_b, panel_c).resolve_scale(x="independent", y="independent", fill="independent").properties(
    width=W, height=H, padding=0, background="white", autosize=alt.AutoSizeParams(type="none")
).configure_view(stroke=None).configure_legend(strokeColor=None)

chart.save("out.html", embed_options={"renderer": "svg", "actions": False})
